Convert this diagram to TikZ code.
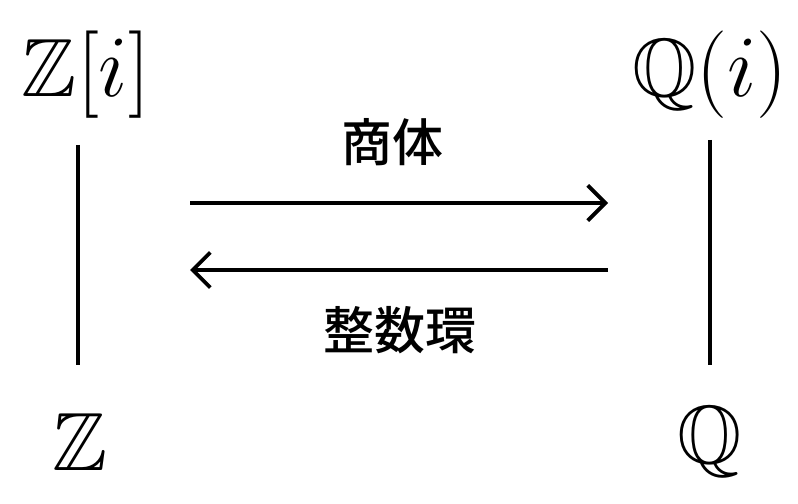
\documentclass[tikz,border=0pt]{standalone}
\usepackage{amssymb}
\usepackage{fontspec}
\newfontfamily\cjk{Noto Sans CJK JP}[BoldFont={Noto Sans CJK JP Medium}]
\usetikzlibrary{arrows.meta}
\begin{document}
\begin{tikzpicture}[x=0.01cm,y=-0.01cm,
  math/.style={inner sep=0pt,font=\fontsize{23.5}{28}\selectfont},
  lab/.style={inner sep=0pt,font=\cjk\bfseries\fontsize{14.5}{17}\selectfont},
  ln/.style={line width=1.1pt},
  arr/.style={ln,-{Straight Barb[length=5pt,width=10pt]}}]
\useasboundingbox (0,0) rectangle (798,504);
\node[math] (zi) at (86,75) {$\mathbb{Z}[i]$};
\node[math] (qi) at (710,75) {$\mathbb{Q}(i)$};
\node[math] (z) at (80,442) {$\mathbb{Z}$};
\node[math] (q) at (710,442) {$\mathbb{Q}$};
\coordinate (a1) at (78,145); \coordinate (a2) at (78,365);
\coordinate (b1) at (710,140); \coordinate (b2) at (710,365);
\draw[ln] (a1) -- (a2);
\draw[ln] (b1) -- (b2);
\coordinate (t1) at (190,203); \coordinate (t2) at (608,203);
\coordinate (u1) at (608,270); \coordinate (u2) at (190,270);
\draw[arr] (t1) -- (t2);
\draw[arr] (u1) -- (u2);
\node[lab] (l1) at (392,142) {商体};
\node[lab] (l2) at (400,330) {整数環};
\end{tikzpicture}
\end{document}
